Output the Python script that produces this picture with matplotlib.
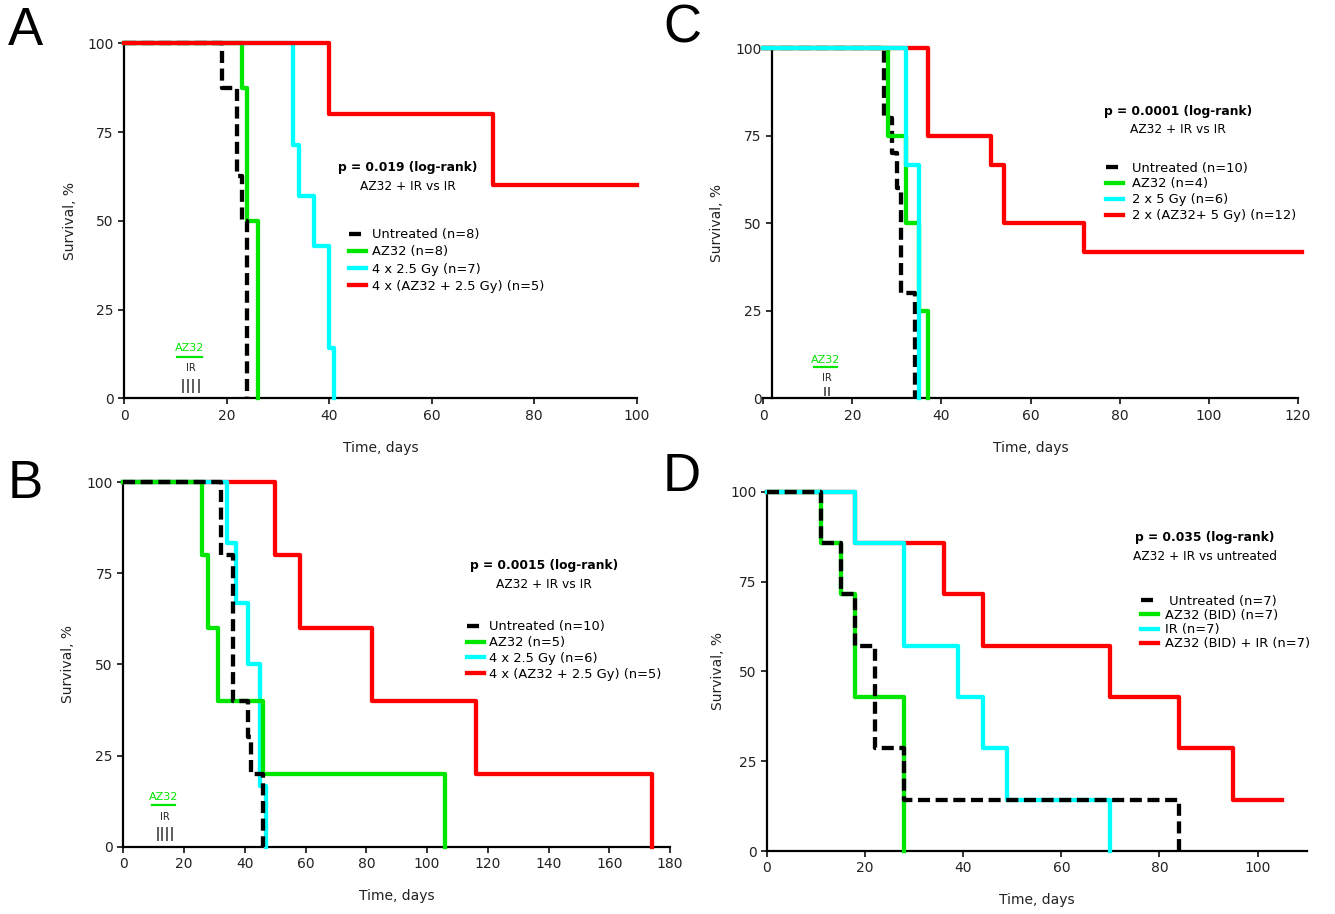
import matplotlib
matplotlib.use("Agg")
import matplotlib.pyplot as plt

BLACK = "#000000"
GREEN = "#00e600"
CYAN = "#00ffff"
RED = "#ff0000"

# ---- panel A : 4 x 2.5 Gy ----
a_untreated_t = [0, 19, 22, 23, 24]
a_untreated_s = [100, 87.5, 62.5, 50, 0]
a_az32_t = [0, 23, 24, 26]
a_az32_s = [100, 87.5, 50, 0]
a_ir_t = [0, 33, 34, 37, 40, 41]
a_ir_s = [100, 71.4, 57.1, 42.9, 14.3, 0]
a_combo_t = [0, 40, 72, 100]
a_combo_s = [100, 80, 60, 60]
a_labels = ["Untreated (n=8)", "AZ32 (n=8)", "4 x 2.5 Gy (n=7)",
            "4 x (AZ32 + 2.5 Gy) (n=5)"]
a_ir_days = [11.5, 12.5, 13.5, 14.5]
a_drug_span = [10.2, 15.1]

# ---- panel B : 4 x 2.5 Gy ----
b_untreated_t = [0, 32, 36, 41, 42, 46]
b_untreated_s = [100, 80, 40, 30, 20, 0]
b_az32_t = [0, 26, 28, 31, 46, 106]
b_az32_s = [100, 80, 60, 40, 20, 0]
b_ir_t = [0, 34, 37, 41, 45, 47]
b_ir_s = [100, 83.3, 66.7, 50, 16.7, 0]
b_combo_t = [0, 50, 58, 82, 116, 174]
b_combo_s = [100, 80, 60, 40, 20, 0]
b_labels = ["Untreated (n=10)", "AZ32 (n=5)", "4 x 2.5 Gy (n=6)",
            "4 x (AZ32 + 2.5 Gy) (n=5)"]
b_ir_days = [11.3, 12.8, 14.3, 16.0]
b_drug_span = [9.3, 17.1]

# ---- panel C : 2 x 5 Gy ----
c_untreated_t = [0, 27, 29, 30, 31, 34]
c_untreated_s = [100, 80, 70, 60, 30, 0]
c_az32_t = [0, 28, 32, 35, 37]
c_az32_s = [100, 75, 50, 25, 0]
c_ir_t = [0, 32, 35]
c_ir_s = [100, 66.7, 0]
c_combo_t = [0, 37, 51, 54, 72, 121]
c_combo_s = [100, 75, 66.7, 50, 41.7, 41.7]
c_labels = ["Untreated (n=10)", "AZ32 (n=4)", "2 x 5 Gy (n=6)",
            "2 x (AZ32+ 5 Gy) (n=12)"]
c_ir_days = [13.8, 14.8]
c_drug_span = [11.3, 16.6]

# ---- panel D : BID ----
d_untreated_t = [0, 11, 15, 18, 22, 28, 84]
d_untreated_s = [100, 85.7, 71.4, 57.1, 28.6, 14.3, 0]
d_az32_t = [0, 11, 15, 18, 28]
d_az32_s = [100, 85.7, 71.4, 42.9, 0]
d_ir_t = [0, 18, 28, 39, 44, 49, 70]
d_ir_s = [100, 85.7, 57.1, 42.9, 28.6, 14.3, 0]
d_combo_t = [0, 18, 36, 44, 70, 84, 95, 105]
d_combo_s = [100, 85.7, 71.4, 57.1, 42.9, 28.6, 14.3, 14.3]
d_labels = [" Untreated (n=7)", "AZ32 (BID) (n=7)", "IR (n=7)",
            "AZ32 (BID) + IR (n=7)"]

plt.rcParams["font.family"] = "DejaVu Sans"

fig = plt.figure(figsize=(13.35, 9.14), dpi=100)


def km_panel(rect, curves, labels, order, xmax, xticks, spine_x, p_text, cmp_text,
             p_xy, leg_xy, spacing, textpad):
    ax = fig.add_axes(rect)
    colors = [BLACK, GREEN, CYAN, RED]
    lines = [None] * 4
    for i in order:
        t, s = curves[i]
        kw = dict(color=colors[i], lw=3.1, where="post", clip_on=False,
                  zorder=3 + order.index(i))
        if i == 0:
            kw["dashes"] = (2.8, 1.3)
        lines[i] = ax.step(t, s, **kw)[0]
    ax.set_xlim(0, xmax)
    ax.set_ylim(0, 100)
    ax.set_xticks(xticks)
    ax.set_yticks([0, 25, 50, 75, 100])
    for sp in ["top", "right"]:
        ax.spines[sp].set_visible(False)
    for sp in ["left", "bottom"]:
        ax.spines[sp].set_linewidth(1.6)
    ax.spines["left"].set_position(("data", spine_x))
    ax.tick_params(direction="out", length=4, width=1.3, labelsize=10,
                   colors="#222222")
    ax.set_xlabel("Time, days", fontsize=10, labelpad=13, color="#222222")
    ax.set_ylabel("Survival, %", fontsize=10, color="#222222")
    ax.text(p_xy[0], p_xy[1], p_text, ha="center", va="center",
            fontsize=8.8, fontweight="bold")
    ax.text(p_xy[0], p_xy[1] - 5.2, cmp_text, ha="center", va="center",
            fontsize=8.8)
    ax.legend(lines, labels, loc="center left", bbox_to_anchor=leg_xy,
              bbox_transform=ax.transData, frameon=False, fontsize=9.4,
              handlelength=1.3, handletextpad=textpad, labelspacing=spacing,
              borderpad=0, borderaxespad=0)
    return ax


def treatment_marks(ax, ir_days, drug_span, ytext, yline, yir, ybar):
    mid = sum(drug_span) / 2
    ax.text(mid, ytext, "AZ32", color=GREEN, fontsize=8, ha="center", va="center")
    ax.plot(drug_span, [yline, yline], color=GREEN, lw=1.6)
    ax.text(sum(ir_days) / len(ir_days), yir, "IR", fontsize=7, ha="center",
            va="center", color="#222222")
    ax.vlines(ir_days, ybar[0], ybar[1], color="#333333", lw=1.1)


# A
ax_a = km_panel([0.0931, 0.5642, 0.3839, 0.3884],
                [(a_untreated_t, a_untreated_s), (a_az32_t, a_az32_s),
                 (a_ir_t, a_ir_s), (a_combo_t, a_combo_s)],
                a_labels, [1, 2, 0, 3], 100, range(0, 101, 20), 0,
                "p = 0.019 (log-rank)", "AZ32 + IR vs IR",
                (55.3, 65), (43.9, 38.8), 0.33, 0.45)
ax_a.yaxis.set_label_coords(-0.092, 0.5)
treatment_marks(ax_a, a_ir_days, a_drug_span, 14.1, 11.7, 8.6, (1.4, 5.4))

# B
ax_b = km_panel([0.0924, 0.0736, 0.4095, 0.3990],
                [(b_untreated_t, b_untreated_s), (b_az32_t, b_az32_s),
                 (b_ir_t, b_ir_s), (b_combo_t, b_combo_s)],
                b_labels, [3, 2, 1, 0], 180, range(0, 181, 20), 0,
                "p = 0.0015 (log-rank)", "AZ32 + IR vs IR",
                (138.5, 77), (113, 53.8), 0.22, 0.45)
ax_b.yaxis.set_label_coords(-0.088, 0.5)
treatment_marks(ax_b, b_ir_days, b_drug_span, 13.5, 11.5, 8.2, (1.6, 5.5))

# C
ax_c = km_panel([0.5717, 0.5642, 0.4006, 0.3829],
                [(c_untreated_t, c_untreated_s), (c_az32_t, c_az32_s),
                 (c_ir_t, c_ir_s), (c_combo_t, c_combo_s)],
                c_labels, [0, 1, 3, 2], 120, range(0, 121, 20), 2,
                "p = 0.0001 (log-rank)", "AZ32 + IR vs IR",
                (93.1, 81.9), (77, 59), 0.22, 0.65)
ax_c.yaxis.set_label_coords(-0.073, 0.5)
treatment_marks(ax_c, c_ir_days, c_drug_span, 11, 8.9, 5.9, (0.8, 3.1))

# D
ax_d = km_panel([0.5745, 0.0689, 0.4043, 0.3931],
                [(d_untreated_t, d_untreated_s), (d_az32_t, d_az32_s),
                 (d_ir_t, d_ir_s), (d_combo_t, d_combo_s)],
                d_labels, [3, 1, 2, 0], 110, range(0, 101, 20), 0,
                "p = 0.035 (log-rank)", "AZ32 + IR vs untreated",
                (89.3, 87.3), (76.3, 63.6), 0.1, 0.55)
ax_d.yaxis.set_label_coords(-0.078, 0.5)

for letter, x, y in [("A", 0.019, 0.951), ("B", 0.019, 0.455),
                     ("C", 0.511, 0.953), ("D", 0.511, 0.463)]:
    fig.text(x, y, letter, fontsize=38, family="Liberation Sans",
             ha="center", va="baseline")

fig.savefig("out.png", dpi=100)
